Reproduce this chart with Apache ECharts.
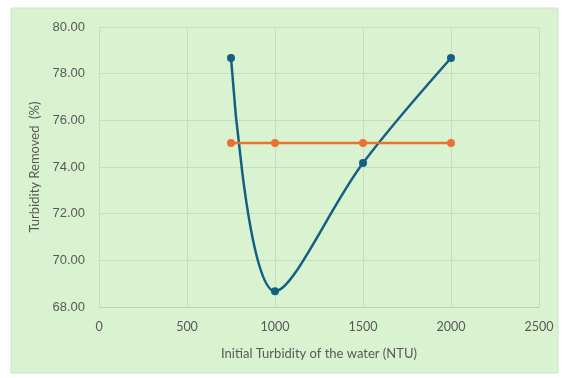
<!DOCTYPE html>
<html><head><meta charset="utf-8">
<script src="https://cdn.jsdelivr.net/npm/echarts@6/dist/echarts.min.js"></script>
<style>html,body{margin:0;padding:0;background:#fff}#c{width:567px;height:378px}</style>
</head><body><div id="c"></div>
<script>
const turbidityX = [750, 1000, 1500, 2000];
const removedBlue = [78.67, 68.67, 74.17, 78.67];
const removedOrange = [75.03, 75.03, 75.03, 75.03];
const xTicks = [0, 500, 1000, 1500, 2000, 2500];
const yTicks = [68, 70, 72, 74, 76, 78, 80];

const chart = echarts.init(document.getElementById('c'), null, {renderer: 'canvas'});
chart.setOption({
  backgroundColor: '#ffffff',
  animation: false,
  graphic: [{
    type: 'rect', z: -10, silent: true,
    shape: {x: 11, y: 8, width: 547, height: 365},
    style: {fill: '#d9f2d0', stroke: '#cfe3c8', lineWidth: 1}
  }],
  grid: {left: 99, right: 28, top: 27, bottom: 71},
  xAxis: {
    type: 'value', min: 0, max: 2500, interval: 500,
    name: 'Initial Turbidity of the water (NTU)', nameLocation: 'middle', nameGap: 40,
    nameTextStyle: {color: '#595959', fontSize: 13, fontFamily: 'Lato'},
    axisLine: {show: true, lineStyle: {color: '#bfcfbb', width: 1}},
    axisTick: {show: false},
    axisLabel: {color: '#595959', fontSize: 12.5, fontFamily: 'Lato', margin: 13,
      formatter: v => String(v)},
    splitLine: {show: true, lineStyle: {color: '#c8dcc2', width: 1}}
  },
  yAxis: {
    type: 'value', min: 68, max: 80, interval: 2,
    name: 'Turbidity Removed  (%)', nameLocation: 'middle', nameGap: 46,
    nameTextStyle: {color: '#595959', fontSize: 13, fontFamily: 'Lato'},
    axisLine: {show: false},
    axisTick: {show: false},
    axisLabel: {color: '#595959', fontSize: 13, fontFamily: 'Liberation Sans', margin: 14,
      formatter: v => v.toFixed(2)},
    splitLine: {show: true, lineStyle: {color: '#c8dcc2', width: 1}}
  },
  series: [{
    type: 'line', data: turbidityX.map((x, i) => [x, removedBlue[i]]),
    smooth: 0.35, symbol: 'circle', symbolSize: 8,
    lineStyle: {color: '#156082', width: 2.5},
    itemStyle: {color: '#156082'}
  }, {
    type: 'line', data: turbidityX.map((x, i) => [x, removedOrange[i]]),
    symbol: 'circle', symbolSize: 8,
    lineStyle: {color: '#E97132', width: 2.5},
    itemStyle: {color: '#E97132'}
  }]
});
</script></body></html>
